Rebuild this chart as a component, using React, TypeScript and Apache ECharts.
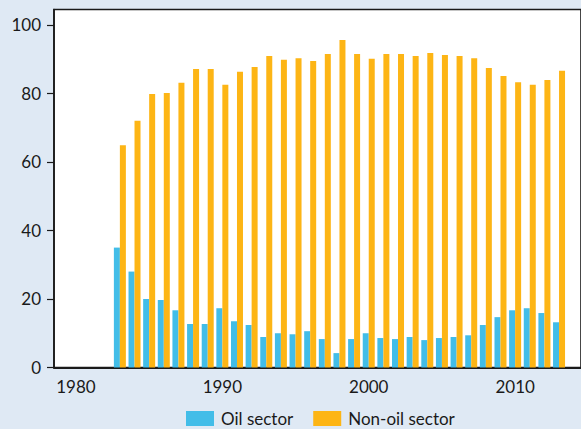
import React, { useEffect, useRef } from "react";
import * as echarts from "echarts";

const axisYears = [
  "1979", "1980", "1981", "1982", "1983", "1984", "1985", "1986", "1987", "1988",
  "1989", "1990", "1991", "1992", "1993", "1994", "1995", "1996", "1997", "1998",
  "1999", "2000", "2001", "2002", "2003", "2004", "2005", "2006", "2007", "2008",
  "2009", "2010", "2011", "2012", "2013", "2014",
];

const dataYears = [
  "1983", "1984", "1985", "1986", "1987", "1988", "1989", "1990", "1991", "1992",
  "1993", "1994", "1995", "1996", "1997", "1998", "1999", "2000", "2001", "2002",
  "2003", "2004", "2005", "2006", "2007", "2008", "2009", "2010", "2011", "2012", "2013",
];

const oilSector = [
  35.0, 28.0, 20.0, 19.7, 16.7, 12.7, 12.7, 17.3, 13.5, 12.4,
  8.9, 10.0, 9.7, 10.6, 8.3, 4.2, 8.3, 10.0, 8.6, 8.3,
  8.9, 8.0, 8.6, 8.9, 9.4, 12.4, 14.7, 16.7, 17.3, 15.9, 13.2,
];

const nonOilSector = [
  64.9, 72.0, 79.8, 80.1, 83.1, 87.1, 87.1, 82.5, 86.3, 87.7,
  90.9, 89.8, 90.3, 89.5, 91.5, 95.6, 91.5, 90.1, 91.5, 91.5,
  90.9, 91.8, 91.2, 90.9, 90.3, 87.4, 85.1, 83.3, 82.5, 83.9, 86.6,
];

const yTickValues = [0, 20, 40, 60, 80, 100];
const xLabelYears = ["1980", "1990", "2000", "2010"];

const FONT = "Lato, 'Open Sans', sans-serif";
const TEXT = "#1a1a1a";

function alignToAxis(values: number[]) {
  return axisYears.map((y) => {
    const i = dataYears.indexOf(y);
    return i >= 0 ? values[i] : null;
  });
}

export default function App() {
  const ref = useRef<HTMLDivElement>(null);
  useEffect(() => {
    if (!ref.current) return;
    const chart = echarts.init(ref.current, undefined, { renderer: "svg" });
    chart.setOption({
      animation: false,
      backgroundColor: "#dfe9f4",
      textStyle: { fontFamily: FONT, color: TEXT },
      grid: {
        left: 54,
        right: -10,
        top: 9.5,
        bottom: 61.5,
        show: true,
        backgroundColor: "#ffffff",
        borderColor: "#1a1a1a",
        borderWidth: 1.6,
      },
      legend: {
        bottom: 2,
        left: 186,
        padding: 0,
        itemWidth: 28,
        itemHeight: 15,
        itemGap: 20,
        icon: "rect",
        textStyle: { fontFamily: FONT, fontSize: 17, lineHeight: 17, color: TEXT, padding: [0, 0, 0, 2] },
        data: ["Oil sector", "Non-oil sector"],
      },
      xAxis: {
        type: "category",
        data: axisYears,
        boundaryGap: true,
        axisLine: { show: true, lineStyle: { color: "#1a1a1a", width: 2 } },
        axisTick: { show: false },
        axisLabel: {
          interval: (_i: number, v: string) => xLabelYears.indexOf(v) >= 0,
          fontFamily: FONT,
          fontSize: 17,
          color: TEXT,
          margin: 10,
        },
        splitLine: { show: false },
      },
      yAxis: {
        type: "value",
        min: 0,
        max: 104.5,
        axisLine: { show: true, lineStyle: { color: "#1a1a1a", width: 1.6 } },
        axisTick: {
          show: true,
          length: 7,
          customValues: yTickValues,
          lineStyle: { color: "#1a1a1a", width: 1.2 },
        },
        axisLabel: {
          customValues: yTickValues,
          fontFamily: FONT,
          fontSize: 17,
          color: TEXT,
          margin: 13,
        },
        splitLine: { show: false },
      },
      series: [
        {
          name: "Oil sector",
          type: "bar",
          data: alignToAxis(oilSector),
          barWidth: 6,
          barGap: "0%",
          itemStyle: { color: "#42bde8" },
        },
        {
          name: "Non-oil sector",
          type: "bar",
          data: alignToAxis(nonOilSector),
          barWidth: 6,
          barGap: "0%",
          itemStyle: { color: "#fdb515" },
        },
      ],
    });
    return () => chart.dispose();
  }, []);
  return <div ref={ref} style={{ width: 581, height: 429, position: "fixed", left: 0, top: 0 }} />;
}
